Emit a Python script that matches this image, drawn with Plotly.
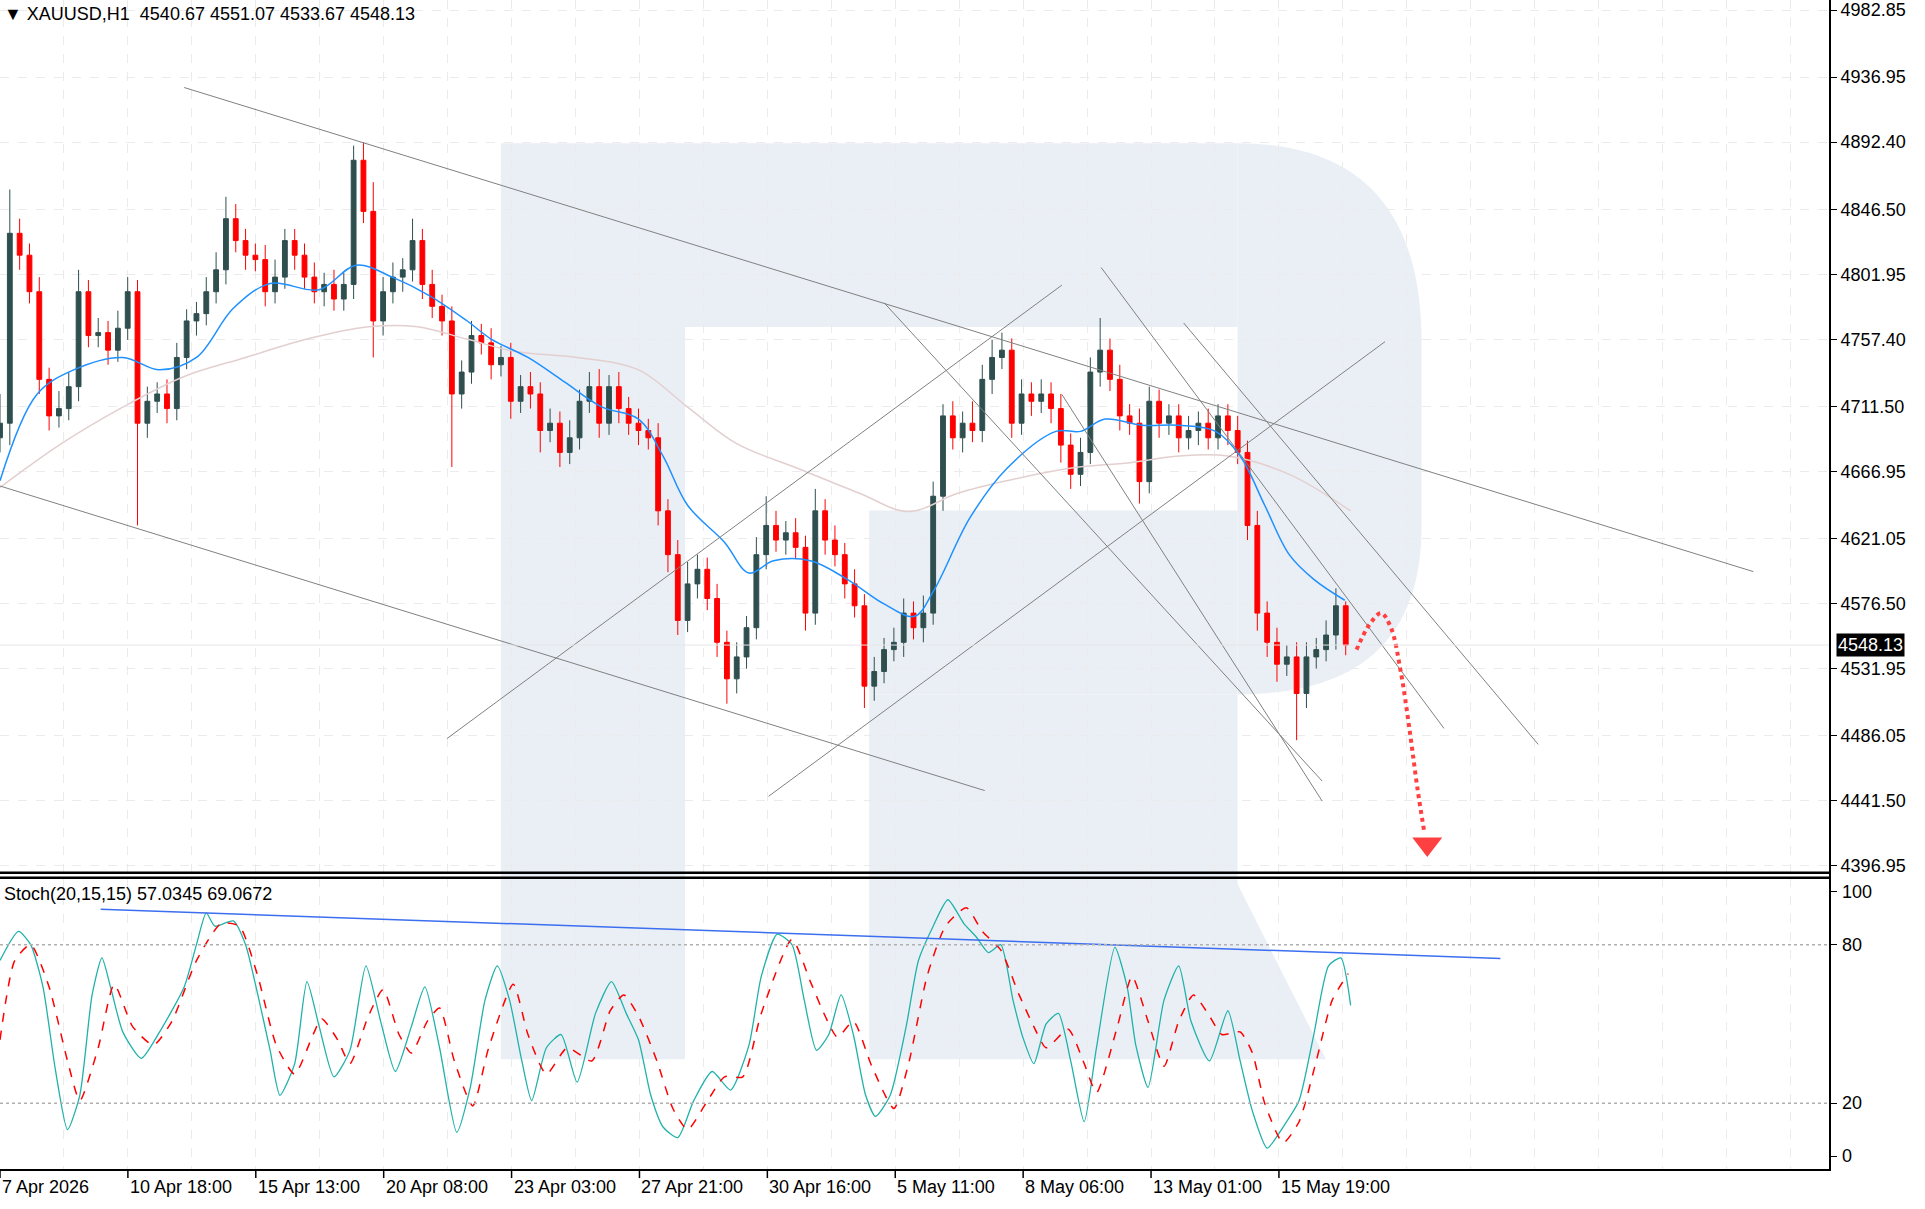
import plotly.graph_objects as go

# ---------------- DATA ----------------
closes = [4700,4830,4815,4790,4730,4705,4710,4725,4790,4760,
          4762,4750,4765,4790,4700,4715,4720,4710,4745,4770,
          4775,4790,4805,4840,4825,4815,4812,4790,4800,4825,
          4815,4800,4790,4795,4785,4795,4880,4845,4770,4790,
          4800,4805,4825,4795,4780,4770,4720,4735,4760,4755,
          4740,4745,4715,4725,4720,4695,4700,4680,4690,4715,
          4725,4700,4725,4710,4700,4695,4690,4640,4610,4565,
          4590,4600,4580,4550,4525,4540,4560,4610,4630,4620,
          4625,4615,4570,4640,4620,4610,4590,4575,4520,4530,
          4545,4550,4570,4560,4570,4650,4705,4690,4700,4695,
          4730,4745,4750,4700,4720,4715,4720,4710,4685,4665,
          4680,4735,4750,4730,4705,4700,4660,4715,4700,4705,
          4690,4695,4700,4690,4705,4695,4680,4630,4570,4550,
          4535,4540,4515,4540,4545,4555,4575,4548.13]
first_open = 4690
wick_up = [20,30,10,8,10,8,12,10,15,8, 10,8,12,10,8,10,8,10,10,8,
           8,10,12,15,10,8,8,10,12,8, 8,8,10,8,10,8,10,12,20,10,
           10,8,15,8,10,8,10,8,10,8, 10,8,10,8,10,8,10,8,12,8,
           10,12,8,10,8,10,8,10,8,10, 15,10,8,10,8,10,8,12,20,10,
           8,10,8,15,8,10,8,10,8,10, 8,10,10,8,12,10,8,10,8,15,
           10,12,12,8,10,8,10,8,10,8, 10,10,22,8,10,8,10,10,8,8,
           8,10,8,10,8,8,10,8,10,8, 10,8,10,10,8,10,12,3]
wick_dn = [10,15,10,8,10,10,8,8,10,8, 8,10,8,8,70,10,8,10,8,8,
           10,8,8,10,8,10,8,10,8,8, 10,8,8,10,8,8,10,8,25,10,
           8,10,8,10,8,10,50,10,8,8, 10,8,12,8,10,15,8,10,8,8,
           8,10,8,10,8,10,8,10,12,10, 8,10,8,10,17,10,8,8,10,8,
           10,8,12,8,10,8,10,8,15,10, 8,8,10,8,10,8,10,8,10,8,
           8,10,8,10,8,10,8,10,12,10, 8,8,10,8,10,8,15,8,10,8,
           10,8,10,8,8,10,8,10,12,10, 12,8,32,10,8,8,10,7]

ma_fast_x = [0,3.75,7.5,12.5,16.25,20,23.75,27.5,32.5,36.25,40,43.75,47.5,50,53.75,57.5,61.25,65,67.5,70,73.75,76.25,78.75,82.5,86.25,90,93.1,95,98.75,102.5,107.5,110,112.5,116.25,120,123.75,126.25,128.75,131.25,133.75,136.9]
ma_fast   = [4660.6,4719.7,4736.5,4745,4736.5,4745,4778.7,4795.6,4791.4,4808.2,4799.8,4787.2,4770.3,4757.6,4745,4728.1,4711.2,4702.8,4677.5,4643.8,4618.5,4597.4,4605.8,4605.8,4593.1,4576.3,4567.8,4584.7,4635.3,4669,4694.4,4694.4,4702.8,4698.6,4698.6,4694.4,4677.5,4643.8,4610,4593.1,4578.8]
ma_slow_x = [0,6.25,12.5,18.75,25,31.25,37.5,42.5,47.5,52.5,58.75,65,70,75,81.25,87.5,92.5,97.5,102.5,108.75,115,120,125,131.25,137.5]
ma_slow   = [4656,4686,4711,4732,4745,4757.6,4766,4766,4757.6,4749,4745,4736.5,4711,4686,4669,4652,4639.5,4652,4660.6,4669,4673,4677.5,4677.5,4665,4640]

# trend lines: (x0, price0, x1, price1) in bar index / price
trend_lines = [(18.75,4929.8,178.5,4598.4),(0,4657,100.25,4448.5),
               (45.5,4484.1,108.1,4794.5),(78.25,4444.6,141,4755.8),
               (90,4782.5,134.6,4455),(108.1,4719.7,134.6,4441.3),
               (112.1,4806.6,147,4491.1),(120.5,4768.6,156.6,4480.1)]

forecast_x = [138.1,139.4,140.6,141.6,142.6,143.5,144.3,145.0]
forecast_y = [4545,4562,4570,4560,4530,4490,4450,4420]

stoch_k_x = [0,15,25,35,45,55,65,75,83,90,100,115,130,150,160,168,175,190,200,210,220,228,240,250,260,272,285,298,310,322,335,346,358,372,383,395,405,415,425,433,445,457,470,485,498,510,520,530,540,552,565,580,595,610,620,633,645,655,665,675,685,695,705,713,725,738,748,760,772,785,795,805,815,825,833,842,852,862,872,883,893,908,918,925,935,948,960,970,985,1000,1010,1020,1032,1045,1058,1070,1082,1092,1100]
stoch_k = [74,85,80,64,33,10,23,61,75,64,47,37,47,64,80,92,87,89,80,61,40,23,35,66,49,30,40,72,51,32,49,64,41,9,26,59,72,59,36,21,41,46,28,54,66,54,44,23,11,7,21,32,25,42,68,84,80,59,40,46,61,46,23,15,23,49,74,87,97,88,83,77,80,59,45,35,50,54,36,13,41,79,64,42,26,59,72,51,36,55,36,17,3,11,21,46,72,75,57.03]
stoch_d_x = [0,12,25,40,55,65,80,93,108,125,140,160,180,195,210,225,240,255,262,275,285,300,312,325,335,348,358,370,385,398,418,430,445,462,482,497,508,520,535,548,560,575,590,605,620,645,660,672,682,695,710,728,740,755,770,787,800,815,830,842,852,870,883,893,910,922,935,948,960,972,985,995,1010,1020,1030,1045,1058,1072,1085,1098]
stoch_d = [44,74,80,64,36,21,41,65,49,42,51,74,88,87,68,42,31,46,52,44,35,53,63,46,39,51,56,36,19,41,65,46,31,41,36,55,61,53,36,18,10,20,30,30,54,82,66,53,45,51,34,18,35,68,87,94,85,78,61,49,41,48,35,24,49,68,51,34,51,61,53,46,47,39,20,5,13,36,59,69.07]
stoch_trend = (10.25,93.4,152.75,74.8)

time_labels = ["7 Apr 2026","10 Apr 18:00","15 Apr 13:00","20 Apr 08:00","23 Apr 03:00",
               "27 Apr 21:00","30 Apr 16:00","5 May 11:00","8 May 06:00","13 May 01:00","15 May 19:00"]
price_ticks = [4982.85,4936.95,4892.40,4846.50,4801.95,4757.40,4711.50,4666.95,
               4621.05,4576.50,4531.95,4486.05,4441.50,4396.95]
last_price = 4548.13

# ---------------- FIGURE ----------------
W, H = 1925, 1209
FONT = "Liberation Sans"
FS = 18
n = len(closes)
idx = list(range(n))
opens = [first_open] + closes[:-1]
highs = [max(o, c) + u for o, c, u in zip(opens, closes, wick_up)]
lows = [min(o, c) - d for o, c, d in zip(opens, closes, wick_dn)]

XR = [0, 186.3]
PD = 1830 / W
fig = go.Figure()

def px(d): return d / 1568
def py(d): return 1 - d / 984.8

wm = "#EAEFF5"
shapes = []
def poly(pts):
    return "M " + " L ".join(f"{px(a):.4f},{py(b):.4f}" for a, b in pts) + " Z"
paths = [
    poly([(408,117),(558,117),(558,865),(408,865)]),
    poly([(558,117),(1008,117),(1008,267),(558,267)]),
    poly([(708,417),(1008,417),(1008,567),(708,567)]),
    poly([(708,567),(1008,567),(1008,722),(1080,865),(708,865)]),
]
bowl = (f"M {px(1008):.4f},{py(117):.4f} Q {px(1158):.4f},{py(117):.4f} {px(1158):.4f},{py(280):.4f} "
        f"L {px(1158):.4f},{py(430):.4f} Q {px(1158):.4f},{py(567):.4f} {px(1008):.4f},{py(567):.4f} Z")
paths.append(bowl)
for p in paths:
    shapes.append(dict(type="path", path=p, xref="paper", yref="paper",
                       fillcolor=wm, line=dict(width=0), layer="below"))

fig.add_trace(go.Scatter(x=ma_slow_x, y=ma_slow, mode="lines", line=dict(color="#E3CFCF", width=1.5, shape="spline"),
                         hoverinfo="skip", xaxis="x", yaxis="y"))
fig.add_trace(go.Candlestick(x=idx, open=opens, high=highs, low=lows, close=closes,
                             increasing=dict(line=dict(color="#2F4F4F", width=1), fillcolor="#2F4F4F"),
                             decreasing=dict(line=dict(color="#FF0000", width=1), fillcolor="#FF0000"),
                             whiskerwidth=0, xaxis="x", yaxis="y"))
fig.add_trace(go.Scatter(x=ma_fast_x, y=ma_fast, mode="lines", line=dict(color="#1E90FF", width=1.5, shape="spline"),
                         hoverinfo="skip", xaxis="x", yaxis="y"))
for x0, y0, x1, y1 in trend_lines:
    fig.add_trace(go.Scatter(x=[x0, x1], y=[y0, y1], mode="lines", line=dict(color="#808080", width=1),
                             hoverinfo="skip", xaxis="x", yaxis="y"))
fig.add_trace(go.Scatter(x=forecast_x, y=forecast_y, mode="lines", line=dict(color="#FF4040", width=4, dash="dot", shape="spline"),
                         xaxis="x", yaxis="y"))
fig.add_trace(go.Scatter(x=[forecast_x[-1] + 0.3], y=[forecast_y[-1] - 8], mode="markers",
                         marker=dict(symbol="triangle-down", size=26, color="#FF4040"), xaxis="x", yaxis="y"))

fig.add_trace(go.Scatter(x=[v / 8 for v in stoch_k_x], y=stoch_k, mode="lines",
                         line=dict(color="#20B2AA", width=1.3, shape="spline", smoothing=0.6), xaxis="x2", yaxis="y2"))
fig.add_trace(go.Scatter(x=[v / 8 for v in stoch_d_x], y=stoch_d, mode="lines",
                         line=dict(color="#FF0000", width=1.5, dash="dash", shape="spline", smoothing=0.6), xaxis="x2", yaxis="y2"))
fig.add_trace(go.Scatter(x=[stoch_trend[0], stoch_trend[2]], y=[stoch_trend[1], stoch_trend[3]], mode="lines",
                         line=dict(color="#3C6EF0", width=1.5), xaxis="x2", yaxis="y2"))

for lv in (80, 20):
    shapes.append(dict(type="line", xref="x2 domain", yref="y2", x0=0, x1=1, y0=lv, y1=lv,
                       line=dict(color="#B0B0B0", width=1.5, dash="dot")))
shapes.append(dict(type="line", xref="x domain", yref="y", x0=0, x1=1, y0=last_price, y1=last_price,
                   line=dict(color="#E6E6E6", width=1)))
for yy in (875, 880):
    shapes.append(dict(type="line", xref="paper", yref="paper", x0=0, x1=PD, y0=1 - yy / H, y1=1 - yy / H,
                       line=dict(color="black", width=2.5)))
shapes.append(dict(type="line", xref="paper", yref="paper", x0=PD, x1=PD, y0=1 - 1174 / H, y1=1,
                   line=dict(color="black", width=2)))
shapes.append(dict(type="line", xref="paper", yref="paper", x0=0, x1=PD, y0=1 - 1173 / H, y1=1 - 1173 / H,
                   line=dict(color="black", width=2)))

tick_pos = [k * 13.02 for k in range(len(time_labels))]
grid_x = [k * 6.51 for k in range(29)]
grid = dict(showgrid=True, gridcolor="#EBEBEB", griddash="dash", gridwidth=1)

annotations = [
    dict(text="▼ XAUUSD,H1  4540.67 4551.07 4533.67 4548.13", x=2 / W, y=1 - 2 / H, xref="paper", yref="paper",
         xanchor="left", yanchor="top", showarrow=False, font=dict(size=FS, color="black", family=FONT)),
    dict(text="Stoch(20,15,15) 57.0345 69.0672", x=2 / W, y=1 - 884 / H, xref="paper", yref="paper",
         xanchor="left", yanchor="top", showarrow=False, font=dict(size=FS, color="black", family=FONT)),
    dict(text=f"{last_price:.2f}", x=PD + 6 / W, y=last_price, xref="paper", yref="y", xanchor="left", yanchor="middle",
         showarrow=False, bgcolor="black", font=dict(size=FS, color="white", family=FONT), borderpad=1),
]
for t, lab in zip(tick_pos, time_labels):
    annotations.append(dict(text=lab, x=t, y=1 - 1178 / H, xref="x2", yref="paper", xanchor="left",
                            xshift=0, showarrow=False, yanchor="top", font=dict(size=FS, color="black", family=FONT)))
for v, lab in [(100, "100"), (80, "80"), (20, "20"), (0, "0")]:
    annotations.append(dict(text=lab, x=PD + 10 / W, y=v, xref="paper", yref="y2", xanchor="left", yanchor="middle",
                            showarrow=False, font=dict(size=FS, color="black", family=FONT)))

fig.update_layout(
    width=W, height=H, margin=dict(l=0, r=0, t=0, b=0), paper_bgcolor="white", plot_bgcolor="white",
    showlegend=False, annotations=annotations,
    xaxis=dict(domain=[0, PD], range=XR, anchor="y", tickvals=grid_x, showticklabels=False, ticks="",
               rangeslider=dict(visible=False), zeroline=False, **grid),
    yaxis=dict(domain=[1 - 875 / H, 1], range=[4392.2, 4989.7], side="right", tickvals=price_ticks,
               ticktext=[f"{v:.2f}" for v in price_ticks], ticks="outside", ticklen=6, tickcolor="black",
               tickfont=dict(size=FS, color="black", family=FONT), zeroline=False, **grid),
    xaxis2=dict(domain=[0, PD], range=XR, anchor="y2", tickvals=grid_x, showticklabels=False, ticks="",
                zeroline=False, **grid),
    yaxis2=dict(domain=[1 - 1173 / H, 1 - 880 / H], range=[-5.3, 105.3], side="right", showticklabels=False,
                tickvals=[100, 80, 20, 0], ticks="outside", ticklen=6, tickcolor="black", showgrid=False, zeroline=False),
)
for t in tick_pos:
    shapes.append(dict(type="line", xref="x2", yref="paper", x0=t, x1=t, y0=1 - 1173 / H, y1=1 - 1181 / H,
                       line=dict(color="black", width=1.5)))
fig.update_layout(shapes=shapes)
fig.write_html("out.html", config={"displayModeBar": False},
               post_script="document.body.style.margin='0';")
